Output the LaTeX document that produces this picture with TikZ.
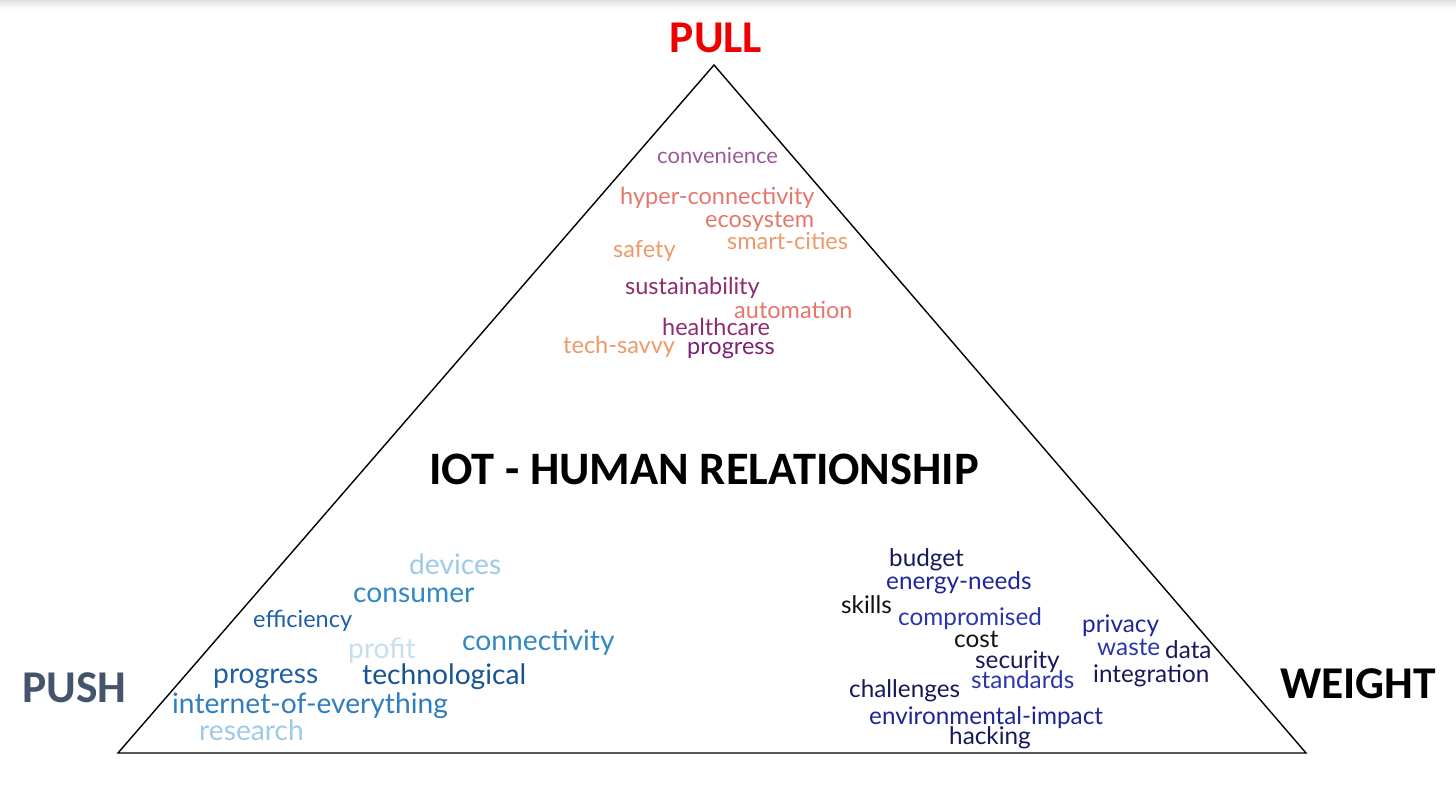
\documentclass[tikz,border=0pt]{standalone}
\usepackage{fontspec}
\setmainfont{Lato}
\newfontfamily\labelfont{Carlito}
\usetikzlibrary{positioning}

\definecolor{pullred}{HTML}{F00000}
\definecolor{pushgray}{HTML}{44546A}
\definecolor{mauve}{HTML}{9B5A97}
\definecolor{coral}{HTML}{E5766A}
\definecolor{peach}{HTML}{EC9A6A}
\definecolor{plum}{HTML}{8E2C72}
\definecolor{plumdark}{HTML}{7A2270}
\definecolor{skylight}{HTML}{9ECAE8}
\definecolor{skypale}{HTML}{C6DEF0}
\definecolor{midblue}{HTML}{3188C4}
\definecolor{ioeblue}{HTML}{2F7CBF}
\definecolor{deepblue}{HTML}{1F5FA5}
\definecolor{darkblue}{HTML}{17548F}
\definecolor{navy}{HTML}{15185A}
\definecolor{ink}{HTML}{111111}
\definecolor{royal}{HTML}{1E2596}
\definecolor{cobalt}{HTML}{2B36A8}

\begin{document}
\begin{tikzpicture}[x=1pt, y=-1pt,
    word/.style={anchor=base west, inner sep=0pt, font=\fontsize{23.5}{27}\selectfont},
    bigword/.style={word, font=\fontsize{28.2}{32}\selectfont},
    weightword/.style={word, font=\fontsize{24.3}{28}\selectfont},
    corner/.style={inner sep=0pt, font=\labelfont\bfseries\fontsize{45.5}{50}\selectfont}]
    % canvas
    \useasboundingbox (0,0) rectangle (1456,789);
    \shade[top color=gray!25, bottom color=white] (0,0) rectangle (1456,9);

    % triangle
    \coordinate (apex) at (714,65);
    \coordinate (left) at (118,753);
    \coordinate (right) at (1306,753);
    \draw[line width=1.4pt, line join=miter] (apex) -- (left) -- (right) -- cycle;

    % corner labels
    \node[corner, anchor=base, text=pullred] (pull) at (716,53) {PULL};
    \node[corner, anchor=base west, text=pushgray] (push) at (22,702) {PUSH};
    \node[corner, anchor=base west, text=black] (weight) at (1280,698) {WEIGHT};
    \node[corner, anchor=base, text=black, font=\labelfont\bfseries\fontsize{46.5}{50}\selectfont] (title) at (704,484) {IOT - HUMAN RELATIONSHIP};

    % pull cloud
    \node[word, text=mauve, font=\fontsize{22}{26}\selectfont] (convenience) at (657,163) {convenience};
    \node[word, text=coral] (hyper) at (620,204) {hyper-connectivity};
    \node[word, text=coral] (ecosystem) at (705,227) {ecosystem};
    \node[word, text=peach] (smartcities) at (727,249) {smart-cities};
    \node[word, text=peach] (safety) at (613,257) {safety};
    \node[word, text=plum] (sustainability) at (625,294) {sustainability};
    \node[word, text=coral] (automation) at (734,318) {automation};
    \node[word, text=plum] (healthcare) at (662,335) {healthcare};
    \node[word, text=peach] (techsavvy) at (563,353) {tech-savvy};
    \node[word, text=plumdark] (pullprogress) at (687,354) {progress};

    % push cloud
    \node[bigword, text=skylight] (devices) at (409,574) {devices};
    \node[bigword, text=midblue] (consumer) at (353,602) {consumer};
    \node[word, text=deepblue] (efficiency) at (253,627) {efficiency};
    \node[bigword, text=skypale] (profit) at (348,658) {profit};
    \node[bigword, text=midblue] (connectivity) at (462,650) {connectivity};
    \node[bigword, text=deepblue] (pushprogress) at (213,683) {progress};
    \node[bigword, text=darkblue] (technological) at (362,684) {technological};
    \node[bigword, text=ioeblue] (ioe) at (172,713) {internet-of-everything};
    \node[bigword, text=skylight] (research) at (199,740) {research};

    % weight cloud
    \node[weightword, text=navy] (budget) at (889,566) {budget};
    \node[weightword, text=royal] (energy) at (886,589) {energy-needs};
    \node[weightword, text=ink] (skills) at (841,613) {skills};
    \node[weightword, text=cobalt] (compromised) at (898,625) {compromised};
    \node[weightword, text=ink] (cost) at (954,647) {cost};
    \node[weightword, text=navy] (security) at (975,668) {security};
    \node[weightword, text=cobalt] (standards) at (971,688) {standards};
    \node[weightword, text=royal] (privacy) at (1082,632) {privacy};
    \node[weightword, text=cobalt] (waste) at (1097,655) {waste};
    \node[weightword, text=navy] (data) at (1165,658) {data};
    \node[weightword, text=navy] (integration) at (1093,682) {integration};
    \node[weightword, text=navy] (challenges) at (849,697) {challenges};
    \node[weightword, text=royal] (envimpact) at (869,724) {environmental-impact};
    \node[weightword, text=navy] (hacking) at (949,744) {hacking};
\end{tikzpicture}
\end{document}
